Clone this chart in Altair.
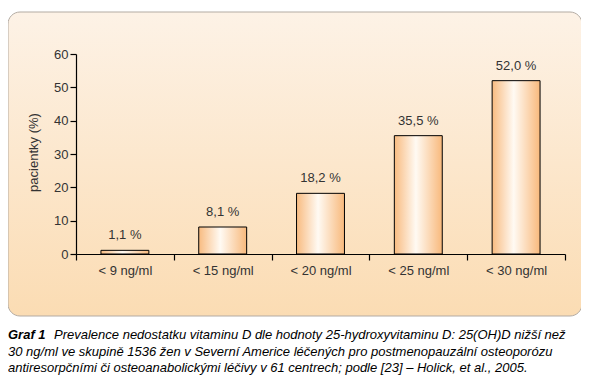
import altair as alt
import pandas as pd

categories = ["< 9 ng/ml", "< 15 ng/ml", "< 20 ng/ml", "< 25 ng/ml", "< 30 ng/ml"]
values = [1.1, 8.1, 18.2, 35.5, 52.0]
labels = ["1,1 %", "8,1 %", "18,2 %", "35,5 %", "52,0 %"]
y_ticks = [0, 10, 20, 30, 40, 50, 60]
y_title = "pacientky (%)"
caption_bold = "Graf 1"
caption_lines = [
    "Prevalence nedostatku vitaminu D dle hodnoty 25-hydroxyvitaminu D: 25(OH)D nižší než",
    "30 ng/ml ve skupině 1536 žen v Severní Americe léčených pro postmenopauzální osteoporózu",
    "antiresorpčními či osteoanabolickými léčivy v 61 centrech; podle [23] – Holick, et al., 2005.",
]

df = pd.DataFrame({"cat": categories, "val": values, "lab": labels})

FONT = "Liberation Sans"
TXT = "#333333"

panel = alt.Chart(pd.DataFrame({"a": [0]})).mark_rect(
    cornerRadius=12,
    stroke="#b3aba3",
    strokeWidth=1,
    fill=alt.Gradient(
        gradient="linear",
        stops=[alt.GradientStop(color="#fdf2e6", offset=0),
               alt.GradientStop(color="#fbdcb3", offset=1)],
        x1=0, x2=0, y1=0, y2=1,
    ),
).encode(
    x=alt.value(-68), x2=alt.value(506), y=alt.value(-42), y2=alt.value(262)
)

x_enc = alt.X("cat:N", sort=categories, title=None,
              scale=alt.Scale(paddingInner=0, paddingOuter=0),
              axis=alt.Axis(tickBand="extent", labelAngle=0, domainColor="black",
                            tickColor="black", tickSize=6, labelFontSize=13,
                            labelColor=TXT, labelFont=FONT, labelPadding=4,
                            domainWidth=1.2, tickWidth=1.2, zindex=1))
y_enc = alt.Y("val:Q", title=y_title,
              scale=alt.Scale(domain=[0, 60], nice=False),
              axis=alt.Axis(values=y_ticks, tickCount=7, grid=False,
                            labelOverlap=False,
                            domainColor="black", tickColor="black", tickSize=6,
                            labelFontSize=13, labelColor=TXT, labelFont=FONT,
                            labelPadding=2, titleFontSize=13, titleFont=FONT,
                            titleFontWeight="normal", titleColor=TXT,
                            titleX=-43, titleY=98, titleBaseline="middle",
                            domainWidth=1.2, tickWidth=1.2, zindex=1))

bars = alt.Chart(df).mark_bar(
    width=alt.RelativeBandSize(0.49),
    stroke="black", strokeWidth=1,
    fill=alt.Gradient(
        gradient="linear",
        stops=[alt.GradientStop(color="#f8bb80", offset=0),
               alt.GradientStop(color="#fffaf3", offset=0.45),
               alt.GradientStop(color="#f8b97c", offset=1)],
        x1=0, x2=1, y1=0, y2=0,
    ),
).encode(x=x_enc, y=y_enc)

texts = alt.Chart(df).mark_text(dy=-8, fontSize=13, font=FONT, color=TXT,
                                baseline="bottom").encode(
    x=x_enc, y=y_enc, text="lab:N")

cap_df = pd.DataFrame({"t": caption_lines, "i": [0, 1, 2]})
cap_bold = alt.Chart(pd.DataFrame({"t": [caption_bold]})).mark_text(
    font=FONT, fontSize=13, fontStyle="italic", fontWeight="bold", color="black",
    align="left", baseline="middle").encode(
    text="t:N", x=alt.value(-68), y=alt.value(281))
cap_rest = alt.Chart(cap_df).transform_calculate(
    xp="datum.i == 0 ? -22 : -68", yp="281 + datum.i * 16.5"
).mark_text(font=FONT, fontSize=13, fontStyle="italic", color="black",
            align="left", baseline="middle").encode(
    text="t:N", x=alt.X("xp:Q", scale=None), y=alt.Y("yp:Q", scale=None))

chart = alt.layer(panel, bars, texts, cap_bold, cap_rest).properties(
    width=489, height=200,
    autosize=alt.AutoSizeParams(type="none"),
    padding={"left": 68, "top": 46, "right": 16, "bottom": 122},
    background="white",
).configure_view(stroke=None)

chart.save("out.html", embed_options={"renderer": "svg", "actions": False})
